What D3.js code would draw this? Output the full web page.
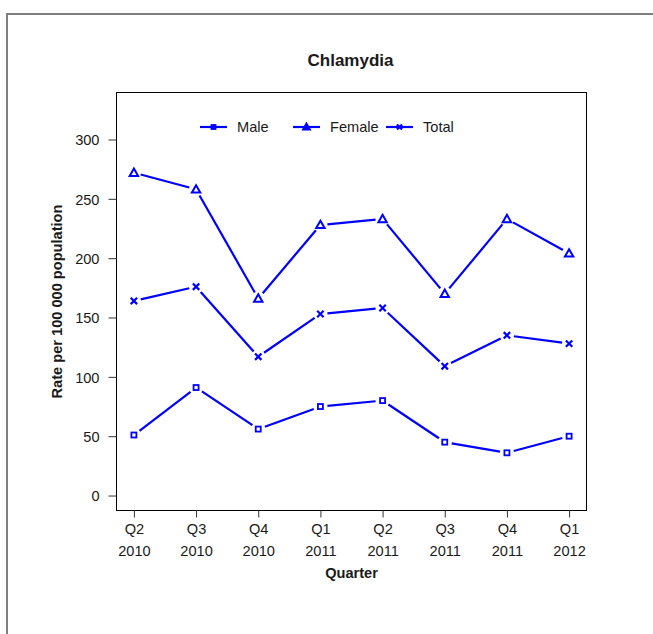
<!DOCTYPE html>
<html><head><meta charset="utf-8">
<script src="https://cdn.jsdelivr.net/npm/d3@7"></script>
<style>body{margin:0;background:#fff}svg{display:block}text{font-family:"Liberation Sans",Arial,sans-serif}</style>
</head><body><svg id="c" width="653" height="634"></svg>
<script>
const quarters = ["Q2|2010","Q3|2010","Q4|2010","Q1|2011","Q2|2011","Q3|2011","Q4|2011","Q1|2012"];
const male   = [51, 91, 56, 75, 80, 45, 36, 50];
const female = [272, 258, 166, 228, 233, 170, 233, 204];
const total  = [164, 176, 117, 153, 158, 109, 135, 128];
const yTicks = [0, 50, 100, 150, 200, 250, 300];
const seriesNames = ["Male", "Female", "Total"];

const svg = d3.select("#c");
const col = "#0000ff";
const txt = "#1a1a1a";
const L = 116.5, R = 586.5, T = 92.5, B = 510.5;
const FS = 14.6;

svg.append("path").attr("d", "M653,14 H7 V634").attr("fill","none").attr("stroke","#808080").attr("stroke-width",2);

const x = d3.scaleLinear().domain([0.72, 8.28]).range([L, R]);
const y = d3.scaleLinear().domain([-12.6, 339.6]).range([B, T]);

svg.append("rect").attr("x",L).attr("y",T).attr("width",R-L).attr("height",B-T)
  .attr("fill","none").attr("stroke","#000").attr("stroke-width",1);

// y axis
const ya = svg.append("g").attr("transform",`translate(${L-8},0)`)
  .call(d3.axisLeft(y).tickValues(yTicks).tickSize(0).tickSizeOuter(0).tickPadding(0));
ya.select(".domain").remove();
ya.selectAll(".tick line").attr("x1",0).attr("x2",8).attr("stroke","#333");
ya.selectAll("text").attr("x",-9).attr("dy","0.36em").attr("font-size",FS).attr("fill",txt).attr("font-family","Liberation Sans,Arial,sans-serif");

// x axis
const xa = svg.append("g").attr("transform",`translate(0,${B})`)
  .call(d3.axisBottom(x).tickValues(d3.range(1,9)).tickSize(7).tickSizeOuter(0).tickFormat(""));
xa.select(".domain").remove();
xa.selectAll(".tick line").attr("stroke","#333");
xa.selectAll(".tick").each(function(d,i){
  const parts = quarters[i].split("|");
  const g = d3.select(this);
  g.append("text").attr("y",23).attr("text-anchor","middle").attr("font-size",FS).attr("fill",txt).text(parts[0]);
  g.append("text").attr("y",45).attr("text-anchor","middle").attr("font-size",FS).attr("fill",txt).text(parts[1]);
});

svg.append("text").attr("x",350.5).attr("y",66).attr("text-anchor","middle").attr("font-size",17).attr("font-weight","bold").attr("fill",txt).text("Chlamydia");
svg.append("text").attr("x",351.5).attr("y",578).attr("text-anchor","middle").attr("font-size",FS).attr("font-weight","bold").attr("fill",txt).text("Quarter");
svg.append("text").attr("transform",`translate(62,${(T+B)/2}) rotate(-90)`).attr("text-anchor","middle").attr("font-size",FS).attr("font-weight","bold").attr("fill",txt).text("Rate per 100 000 population");

function marker(g, type, cx, cy, s, filled) {
  if (type === 0) {
    g.append("rect").attr("x",cx-2.5*s).attr("y",cy-2.5*s).attr("width",5*s).attr("height",5*s)
      .attr("fill", filled ? col : "none").attr("stroke",col).attr("stroke-width",1.8);
  } else if (type === 1) {
    const h = 7*s;
    g.append("path").attr("d",`M${cx},${cy-h*0.6} L${cx+h*0.6},${cy+h*0.45} L${cx-h*0.6},${cy+h*0.45} Z`)
      .attr("fill", filled ? col : "none").attr("stroke",col).attr("stroke-width",2);
  } else {
    const r = 3.2*s;
    g.append("path").attr("d",`M${cx-r},${cy-r} L${cx+r},${cy+r} M${cx-r},${cy+r} L${cx+r},${cy-r}`)
      .attr("stroke",col).attr("stroke-width",2.2);
  }
}

const gap = 7;
[male, female, total].forEach((vals, si) => {
  const g = svg.append("g");
  const pts = vals.map((v,i)=>[x(i+1), y(v)]);
  for (let i=0;i<pts.length-1;i++){
    const [x1,y1]=pts[i],[x2,y2]=pts[i+1];
    const dx=x2-x1, dy=y2-y1, len=Math.hypot(dx,dy);
    const ux=dx/len, uy=dy/len;
    g.append("line").attr("x1",x1+ux*gap).attr("y1",y1+uy*gap).attr("x2",x2-ux*gap).attr("y2",y2-uy*gap)
      .attr("stroke",col).attr("stroke-width",2.2);
  }
  pts.forEach(p=>marker(g, si, p[0], p[1], 1, false));
});

// legend
const legX = [200, 293, 386];
seriesNames.forEach((n,i)=>{
  const g = svg.append("g");
  const ly = 127;
  g.append("line").attr("x1",legX[i]).attr("x2",legX[i]+27).attr("y1",ly).attr("y2",ly).attr("stroke",col).attr("stroke-width",2.2);
  marker(g, i, legX[i]+13.5, ly, 0.8, true);
  g.append("text").attr("x",legX[i]+37).attr("y",ly+5).attr("font-size",FS).attr("fill",txt).text(n);
});
</script></body></html>
